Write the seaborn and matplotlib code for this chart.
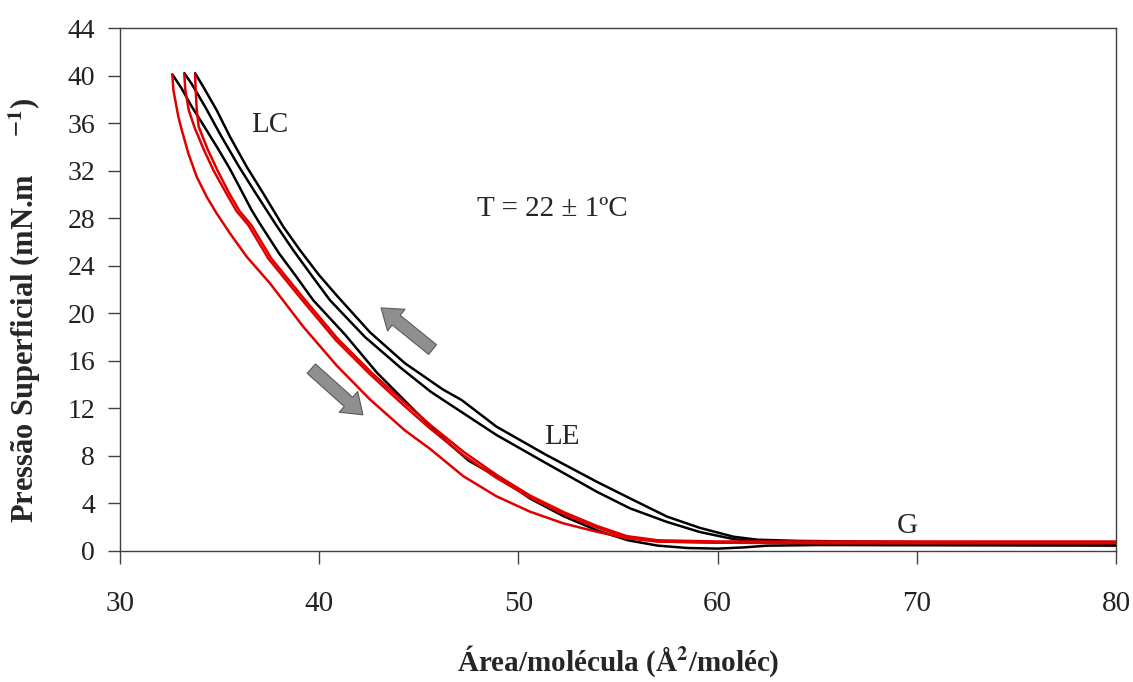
import pandas as pd
import seaborn as sns
import matplotlib.pyplot as plt

# isotermas pi-A (compressao em preto, expansao em vermelho)
area_preto_a = [33.77, 34.18, 34.85, 35.52, 36.36, 37.19, 38.2, 39.04, 40.0, 40.88, 42.55, 44.3,
                46.2, 47.15, 48.9, 51.4, 53.93, 55.6, 57.45, 59.1, 60.8, 62.0, 64.0, 70.0, 80.0]
pressao_preto_a = [40.2, 39.06, 37.1, 34.86, 32.33, 30.09, 27.28, 25.3, 23.2, 21.5, 18.4, 15.8,
                   13.6, 12.7, 10.46, 8.08, 5.83, 4.43, 2.9, 1.95, 1.2, 0.95, 0.85, 0.75, 0.7]

area_preto_b = [33.23, 33.6, 34.3, 35.05, 35.95, 36.85, 37.85, 38.7, 39.7, 40.54, 42.3, 44.1,
                45.6, 46.23, 48.9, 51.4, 53.93, 55.6, 57.45, 59.1, 60.8, 62.0, 64.0, 70.0, 80.0]
pressao_preto_b = [40.2, 39.3, 37.3, 35.0, 32.4, 30.0, 27.4, 25.3, 23.0, 21.1, 18.0, 15.4,
                   13.4, 12.7, 9.76, 7.38, 4.99, 3.59, 2.45, 1.6, 1.0, 0.8, 0.7, 0.6, 0.55]

area_preto_c = [32.63, 33.1, 33.6, 34.2, 34.9, 35.5, 36.1, 36.6, 37.0, 38.0, 38.8, 39.7, 41.3,
                42.9, 44.5, 46.0, 47.5, 49.2, 50.6, 52.3, 54.0, 55.5, 57.0, 58.5, 60.0, 61.3,
                62.5, 65.0, 80.0]
pressao_preto_c = [40.1, 38.9, 37.4, 35.8, 33.9, 32.2, 30.3, 28.7, 27.6, 25.0, 23.2, 21.1, 18.2,
                   15.0, 12.3, 9.8, 7.6, 6.0, 4.4, 2.9, 1.7, 0.9, 0.45, 0.25, 0.2, 0.3,
                   0.45, 0.5, 0.45]

area_verm_1 = [33.77, 33.8, 33.85, 33.95, 34.4, 34.9, 35.45, 36.0, 36.6, 37.6, 39.25, 40.93, 42.6,
               44.28, 45.62, 47.28, 48.95, 50.6, 52.3, 53.95, 55.44, 57.0, 60.0, 70.0, 80.0]
pressao_verm_1 = [40.1, 38.8, 37.2, 35.7, 33.8, 32.0, 30.2, 28.6, 27.4, 24.6, 21.2, 17.85, 15.05,
                  12.5, 10.55, 8.3, 6.35, 4.65, 3.25, 2.1, 1.25, 0.9, 0.8, 0.8, 0.8]

area_verm_2 = [33.23, 33.28, 33.45, 33.75, 34.2, 34.7, 35.3, 35.85, 36.45, 37.45, 39.15, 40.83, 42.5,
               44.15, 45.5, 47.2, 48.9, 50.58, 52.25, 53.93, 55.44, 57.0, 60.0, 70.0, 80.0]
pressao_verm_2 = [40.1, 38.8, 37.1, 35.6, 33.8, 32.0, 30.2, 28.6, 27.4, 24.6, 21.1, 17.75, 14.95,
                  12.4, 10.4, 8.1, 6.15, 4.5, 3.1, 1.98, 1.15, 0.8, 0.7, 0.7, 0.7]

area_verm_3 = [32.63, 32.68, 32.93, 33.1, 33.43, 33.85, 34.35, 34.85, 35.52, 36.36, 37.53, 39.2,
               40.88, 42.55, 44.3, 45.56, 47.23, 48.9, 50.58, 52.25, 53.93, 55.44, 57.0, 60.0,
               65.0, 80.0]
pressao_verm_3 = [40.05, 38.78, 36.54, 35.42, 33.46, 31.49, 29.81, 28.41, 26.73, 24.76, 22.52, 18.87,
                  15.6, 12.75, 10.15, 8.6, 6.3, 4.6, 3.31, 2.33, 1.62, 1.07, 0.8, 0.7,
                  0.65, 0.65]

curvas = [
    ("preto_a", "preto", area_preto_a, pressao_preto_a),
    ("preto_b", "preto", area_preto_b, pressao_preto_b),
    ("preto_c", "preto", area_preto_c, pressao_preto_c),
    ("verm_1", "vermelho", area_verm_1, pressao_verm_1),
    ("verm_2", "vermelho", area_verm_2, pressao_verm_2),
    ("verm_3", "vermelho", area_verm_3, pressao_verm_3),
]
linhas = []
for nome, cor, xs, ys in curvas:
    for x, y in zip(xs, ys):
        linhas.append({"curva": nome, "cor": cor, "area": x, "pressao": y})
df = pd.DataFrame(linhas)

sns.set_style("white")
plt.rcParams["font.family"] = ["Liberation Serif", "DejaVu Serif"]
plt.rcParams["mathtext.fontset"] = "stix"

fig = plt.figure(figsize=(11.33, 6.82), dpi=100)
ax = fig.add_axes([0.1059, 0.1921, 0.8791, 0.7668])

sns.lineplot(data=df, x="area", y="pressao", hue="cor", units="curva", estimator=None,
             sort=False, palette={"preto": "black", "vermelho": "#e00000"},
             hue_order=["preto", "vermelho"], linewidth=1.8, legend=False, ax=ax)

ax.set_xlim(30, 80)
ax.set_ylim(0, 44)
ax.set_xticks(range(30, 81, 10))
ax.set_yticks(range(0, 45, 4))
ax.tick_params(axis="both", direction="out", length=9, width=1, color="#404040",
               labelcolor="#222222", left=True, bottom=True)
ax.tick_params(axis="x", pad=20, labelsize=21)
ax.tick_params(axis="y", pad=9, labelsize=20)
for s in ax.spines.values():
    s.set_color("#404040")
    s.set_linewidth(1)

ax.set_xlabel(r"Área/molécula (Å$^{\mathbf{2}}$/moléc)", fontsize=21, fontweight="bold")
ax.set_ylabel(r"Pressão Superficial (mN.m     $^{\mathbf{-1}}$)", fontsize=22, fontweight="bold")
ax.xaxis.set_label_coords(0.5, -0.176)
ax.yaxis.set_label_coords(-0.077, 0.46)

ax.text(37.5, 35.8, "LC", fontsize=21, ha="center", va="center")
ax.text(52.2, 9.6, "LE", fontsize=21, ha="center", va="center")
ax.text(69.5, 2.1, "G", fontsize=21, ha="center", va="center")
ax.text(51.7, 28.8, "T = 22 ± 1ºC", fontsize=21, ha="center", va="center")

seta = dict(arrowstyle="simple,head_width=1.0,head_length=0.7,tail_width=0.45",
            fc="#8f8f8f", ec="#5a5a5a", lw=0.8, mutation_scale=20)
ax.annotate("", xy=(43.0, 20.6), xytext=(45.8, 16.8), arrowprops=seta)
ax.annotate("", xy=(42.3, 11.3), xytext=(39.5, 15.5), arrowprops=seta)

fig.savefig("out.png", dpi=100)
